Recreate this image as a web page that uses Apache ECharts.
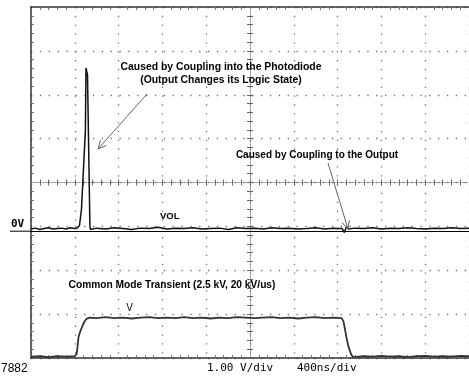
<!DOCTYPE html>
<html>
<head>
<meta charset="utf-8">
<script src="https://cdn.jsdelivr.net/npm/echarts@6/dist/echarts.min.js"></script>
<style>
  html, body { margin: 0; padding: 0; background: #fff; overflow: hidden; }
  #scope { width: 469px; height: 383px; }
</style>
</head>
<body>
<div id="scope"></div>
<script>
// Horizontal axis: ns relative to screen centre, 400 ns/div, 10 divisions
const timeMin = -2000;
const timeMax = 2000;
const timeDiv = 400;
// Vertical axis: screen divisions, 8 divisions
const divMin = -4;
const divMax = 4;
const divStep = 1;

// Channel 1 ground marker level (divisions)
const ch1Ground = -1.11;

// Channel 1: optocoupler output  [time ns, level div]
const ch1Trace = [
  [-2000, -1.06], [-1960, -1.04], [-1920, -1.07], [-1880, -1.05], [-1840, -1.03],
  [-1800, -1.06], [-1760, -1.05], [-1720, -1.04], [-1680, -1.06], [-1640, -1.03],
  [-1600, -1.05], [-1575, -1.03], [-1557, -0.98], [-1548, -0.97], [-1539, -0.61],
  [-1521, 0.30], [-1503, 1.20], [-1498, 2.61], [-1489, 2.61], [-1484, 2.45],
  [-1468, 2.45], [-1462, -1.00], [-1457, -1.07], [-1448, -1.05],
  [-1400, -1.04], [-1320, -1.06], [-1240, -1.03], [-1160, -1.05], [-1080, -1.07],
  [-1000, -1.04], [-920, -1.05], [-840, -1.02], [-760, -1.06], [-680, -1.04],
  [-600, -1.05], [-520, -1.03], [-440, -1.06], [-360, -1.05], [-280, -1.04],
  [-200, -1.07], [-120, -1.03], [-40, -1.05], [40, -1.04], [120, -1.06],
  [200, -1.03], [280, -1.05], [360, -1.04], [440, -1.06], [520, -1.05],
  [600, -1.03], [680, -1.06], [760, -1.04], [820, -1.05],
  [842, -1.05], [855, -1.08], [862, -1.14], [871, -1.10], [880, -1.01], [898, -1.06],
  [960, -1.04], [1040, -1.05], [1120, -1.03], [1200, -1.06], [1280, -1.04],
  [1360, -1.05], [1440, -1.03], [1520, -1.05], [1600, -1.06], [1680, -1.04],
  [1760, -1.05], [1840, -1.03], [1920, -1.05], [2000, -1.04]
];

// Channel 2: common mode transient  [time ns, level div]
const ch2Trace = [
  [-2000, -3.97], [-1920, -3.96], [-1840, -3.98], [-1760, -3.96], [-1680, -3.97],
  [-1600, -3.96], [-1593, -3.97], [-1584, -3.91], [-1575, -3.75], [-1566, -3.52],
  [-1548, -3.38], [-1530, -3.27], [-1512, -3.17], [-1494, -3.11], [-1466, -3.08],
  [-1400, -3.09], [-1320, -3.07], [-1240, -3.09], [-1160, -3.08], [-1080, -3.10],
  [-1000, -3.08], [-920, -3.07], [-840, -3.09], [-760, -3.08], [-680, -3.09],
  [-600, -3.07], [-520, -3.09], [-440, -3.08], [-360, -3.10], [-280, -3.08],
  [-200, -3.09], [-120, -3.07], [-40, -3.08], [40, -3.09], [120, -3.08],
  [200, -3.07], [280, -3.09], [360, -3.08], [440, -3.10], [520, -3.08],
  [600, -3.07], [680, -3.09], [760, -3.08], [836, -3.09],
  [844, -3.10], [853, -3.16], [867, -3.34], [880, -3.52], [898, -3.73],
  [926, -3.93], [944, -3.98],
  [1040, -3.96], [1120, -3.97], [1200, -3.95], [1280, -3.97], [1360, -3.96],
  [1440, -3.98], [1520, -3.96], [1600, -3.95], [1680, -3.97], [1760, -3.96],
  [1840, -3.97], [1920, -3.95], [2000, -3.96]
];

// Screen texts
const noteSpike = ['Caused by Coupling into the Photodiode', '(Output Changes its Logic State)'];
const noteGlitch = 'Caused by Coupling to the Output';
const noteTransient = 'Common Mode Transient (2.5 kV, 20 kV/us)';
const groundText = '0V';
const volText = 'VOL';
const transientMark = 'V';
const voltsPerDiv = '1.00 V/div';
const timePerDiv = '400ns/div';
const figureId = '7882';

const chart = echarts.init(document.getElementById('scope'), null, { renderer: 'canvas' });

const borderLine = { show: true, onZero: false, lineStyle: { color: '#333', width: 1.5 } };
const borderMinor = { show: true, splitNumber: 5, length: 3, lineStyle: { color: '#777', width: 1 } };
const graticule = { show: true, lineStyle: { color: '#6f6f6f', width: 1.3, type: [1.3, 7.55] } };
const centreLine = { show: true, onZero: true, onZeroAxisIndex: 0, lineStyle: { color: '#8a8a8a', width: 1, type: [1, 2] } };
const centreTick = { show: true, length: 3, inside: false, lineStyle: { color: '#666', width: 1 } };
const centreMinor = { show: true, splitNumber: 5, length: 3, lineStyle: { color: '#666', width: 1 } };

function xAx(position, line, tick, minor, split) {
  return {
    type: 'value', position, min: timeMin, max: timeMax, interval: timeDiv,
    axisLine: line, axisTick: tick, minorTick: minor,
    splitLine: split || { show: false }, axisLabel: { show: false }
  };
}
function yAx(position, line, tick, minor, split) {
  return {
    type: 'value', position, min: divMin, max: divMax, interval: divStep,
    axisLine: line, axisTick: tick, minorTick: minor,
    splitLine: split || { show: false }, axisLabel: { show: false }
  };
}

const option = {
  animation: false,
  backgroundColor: '#fff',
  grid: { left: 31, top: 7, width: 443, height: 351, containLabel: false },
  xAxis: [
    xAx('bottom', borderLine, { show: false, inside: true }, borderMinor, graticule),
    xAx('top', borderLine, { show: false, inside: true }, borderMinor),
    xAx('bottom', centreLine, centreTick, centreMinor),
    xAx('top', centreLine, centreTick, centreMinor)
  ],
  yAxis: [
    yAx('left', borderLine, { show: false, inside: true }, borderMinor, graticule),
    yAx('left', centreLine, centreTick, centreMinor),
    yAx('right', centreLine, centreTick, centreMinor)
  ],
  series: [
    {
      type: 'line', xAxisIndex: 0, yAxisIndex: 0, data: ch1Trace,
      showSymbol: false, symbol: 'none', z: 5,
      lineStyle: { color: '#111', width: 1.5 },
      markLine: {
        silent: true, symbol: 'none', label: { show: false },
        lineStyle: { color: '#000', width: 1, type: 'solid' },
        data: [{ yAxis: ch1Ground }]
      }
    },
    {
      type: 'line', xAxisIndex: 0, yAxisIndex: 0, data: ch2Trace,
      showSymbol: false, symbol: 'none', z: 5,
      lineStyle: { color: '#333', width: 1.8 }
    }
  ]
};
chart.setOption(option);

// Arrow made of a shaft and an open head
function arrow(from, to) {
  const dx = to[0] - from[0], dy = to[1] - from[1];
  const len = Math.sqrt(dx * dx + dy * dy);
  const ux = dx / len, uy = dy / len;
  const head = 9, spread = 0.45;
  const cs = Math.cos(spread), sn = Math.sin(spread);
  const w1 = [to[0] - head * (ux * cs - uy * sn), to[1] - head * (uy * cs + ux * sn)];
  const w2 = [to[0] - head * (ux * cs + uy * sn), to[1] - head * (uy * cs - ux * sn)];
  const st = { stroke: '#666', lineWidth: 1, fill: null };
  return [
    { type: 'line', shape: { x1: from[0], y1: from[1], x2: to[0], y2: to[1] }, style: st, z: 20 },
    { type: 'polyline', shape: { points: [w1, to, w2] }, style: st, z: 20 }
  ];
}

function label(text, x, y, font, align) {
  return {
    type: 'text', x, y, z: 30,
    style: { text, font, fill: '#000', align: align || 'left', verticalAlign: 'middle' }
  };
}

const gy = chart.convertToPixel({ yAxisIndex: 0 }, ch1Ground);
const gridLeft = chart.convertToPixel({ xAxisIndex: 0 }, timeMin);

const sans = '"Liberation Sans", Arial, sans-serif';
chart.setOption({
  graphic: [
    { type: 'line', shape: { x1: 10, y1: gy, x2: gridLeft, y2: gy }, style: { stroke: '#000', lineWidth: 1 }, z: 20 },
    label(groundText, 11, gy - 7, 'bold 11px "DejaVu Sans Mono", monospace'),
    label(noteSpike[0], 221, 67, 'bold 10.4px ' + sans, 'center'),
    label(noteSpike[1], 221, 80, 'bold 10.4px ' + sans, 'center'),
    label(noteGlitch, 317, 155, 'bold 10px ' + sans, 'center'),
    label(volText, 160, 216, 'bold 9.5px ' + sans),
    label(noteTransient, 172, 285, 'bold 10.2px ' + sans, 'center'),
    label(transientMark, 129.5, 308, '10px ' + sans, 'center'),
    label(voltsPerDiv, 207, 368, '11px "DejaVu Sans Mono", monospace'),
    label(timePerDiv, 297, 368, '11px "DejaVu Sans Mono", monospace'),
    label(figureId, 1, 369, '12px ' + sans),
    ...arrow([147, 94], [98, 149]),
    ...arrow([328, 163], [348, 229])
  ]
});
</script>
</body>
</html>
